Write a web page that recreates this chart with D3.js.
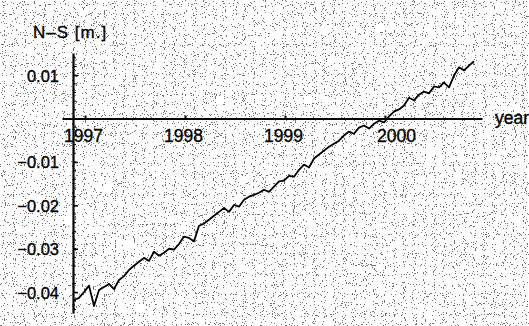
<!DOCTYPE html>
<html>
<head>
<meta charset="utf-8">
<script src="https://cdn.jsdelivr.net/npm/d3@7"></script>
<style>
  html, body { margin: 0; padding: 0; background: #fff; }
  svg { display: block; font-family: "Liberation Sans", Arial, sans-serif; }
  .lbl { fill: #000; stroke: #000; stroke-width: 0.35px; }
</style>
</head>
<body>
<div id="chart"></div>
<script>
// N-S displacement series, sampled every 0.05 year from 1996.89
const startYear = 1996.89;
const stepYear = 0.05;
const nsValues = [
  -0.0418, -0.0413, -0.0400, -0.0385, -0.0432, -0.0395, -0.0388, -0.0381, -0.0393, -0.0372,
  -0.0363, -0.0349, -0.0339, -0.0330, -0.0321, -0.0328, -0.0307, -0.0316, -0.0309, -0.0300,
  -0.0302, -0.0289, -0.0272, -0.0275, -0.0283, -0.0247, -0.0242, -0.0233, -0.0224, -0.0215,
  -0.0206, -0.0215, -0.0199, -0.0203, -0.0187, -0.0180, -0.0176, -0.0171, -0.0164, -0.0169,
  -0.0157, -0.0145, -0.0143, -0.0132, -0.0134, -0.0118, -0.0106, -0.0113, -0.0092, -0.0083,
  -0.0074, -0.0065, -0.0058, -0.0051, -0.0039, -0.0030, -0.0035, -0.0021, -0.0016, -0.0023,
  -0.0012, -0.0005, -0.0009, 0.0005, 0.0016, 0.0021, 0.0030, 0.0048, 0.0042, 0.0055,
  0.0062, 0.0058, 0.0074, 0.0072, 0.0083, 0.0072, 0.0099, 0.0118, 0.0111, 0.0122,
  0.0132
];
const yearTicks = [1997, 1998, 1999, 2000];
const valueTicks = [0.01, -0.01, -0.02, -0.03, -0.04];
const minorValueTicks = d3.range(-0.044, 0.0150, 0.002);

const width = 529;
const height = 326;

const svg = d3.select('#chart')
  .append('svg')
  .attr('width', width)
  .attr('height', height);

// scanned-paper speckle
const defs = svg.append('defs');
const speckle = defs.append('filter')
  .attr('id', 'speckle')
  .attr('x', 0).attr('y', 0).attr('width', 1).attr('height', 1);
speckle.append('feTurbulence')
  .attr('type', 'fractalNoise')
  .attr('baseFrequency', 0.9)
  .attr('numOctaves', 1)
  .attr('seed', 3);
speckle.append('feColorMatrix')
  .attr('type', 'matrix')
  .attr('values', '0 0 0 0 0  0 0 0 0 0  0 0 0 0 0  -20 0 0 0 7.4');
speckle.append('feComponentTransfer')
  .append('feFuncA').attr('type', 'discrete').attr('tableValues', '0 0.55');

svg.append('rect')
  .attr('width', width)
  .attr('height', height)
  .attr('fill', '#fff');
svg.append('rect')
  .attr('width', width)
  .attr('height', height)
  .attr('filter', 'url(#speckle)');

const x = d3.scaleLinear().domain([1996.77, 2000.97]).range([62, 482]);
const y = d3.scaleLinear().domain([-0.0448, 0.0151]).range([313, 53]);

// x axis (time)
const xAxis = svg.append('g')
  .attr('transform', `translate(0,${y(0)})`)
  .call(d3.axisBottom(x).tickValues(yearTicks).tickSizeInner(-3).tickSizeOuter(0).tickFormat(d3.format('d')));
xAxis.select('.domain').attr('stroke', '#000').attr('stroke-width', 2);
xAxis.selectAll('.tick line').attr('stroke', '#000').attr('stroke-width', 2);
xAxis.selectAll('.tick text')
  .attr('class', 'lbl')
  .attr('y', 23)
  .attr('dy', 0)
  .attr('dx', (d) => (d === 2000 ? 11 : -2))
  .style('font-size', '17.5px')
  .style('font-family', '"Liberation Sans", Arial, sans-serif');

// y axis (N-S)
svg.append('g')
  .selectAll('line')
  .data(minorValueTicks)
  .enter()
  .append('line')
  .attr('x1', x(1996.88))
  .attr('x2', x(1996.88) + 3)
  .attr('y1', (d) => y(d))
  .attr('y2', (d) => y(d))
  .attr('stroke', '#000')
  .attr('stroke-width', 1);

const yAxis = svg.append('g')
  .attr('transform', `translate(${x(1996.88)},0)`)
  .call(d3.axisLeft(y).tickValues(valueTicks).tickSizeInner(-5).tickSizeOuter(0)
    .tickFormat((d) => d3.format('.2f')(d).replace('-', '\u2212')));
yAxis.select('.domain').attr('stroke', '#000').attr('stroke-width', 2.2);
yAxis.selectAll('.tick line').attr('stroke', '#000').attr('stroke-width', 1.5);
yAxis.selectAll('.tick text')
  .attr('class', 'lbl')
  .attr('x', -14)
  .attr('dy', '0.36em')
  .style('font-size', '16.5px')
  .style('font-family', '"Liberation Sans", Arial, sans-serif');

// series
const line = d3.line()
  .x((d, i) => x(startYear + i * stepYear))
  .y((d) => y(d))
  .curve(d3.curveLinear);

svg.append('path')
  .datum(nsValues)
  .attr('d', line)
  .attr('fill', 'none')
  .attr('stroke', '#000')
  .attr('stroke-width', 1.8)
  .attr('stroke-linejoin', 'round');

// axis titles
svg.append('text')
  .attr('class', 'lbl')
  .attr('x', 33)
  .attr('y', 38)
  .style('font-size', '17px')
  .style('letter-spacing', '1px')
  .text('N–S [m.]');

svg.append('text')
  .attr('class', 'lbl')
  .attr('x', 495)
  .attr('y', 124)
  .style('font-size', '17.5px')
  .text('year');
</script>
</body>
</html>
